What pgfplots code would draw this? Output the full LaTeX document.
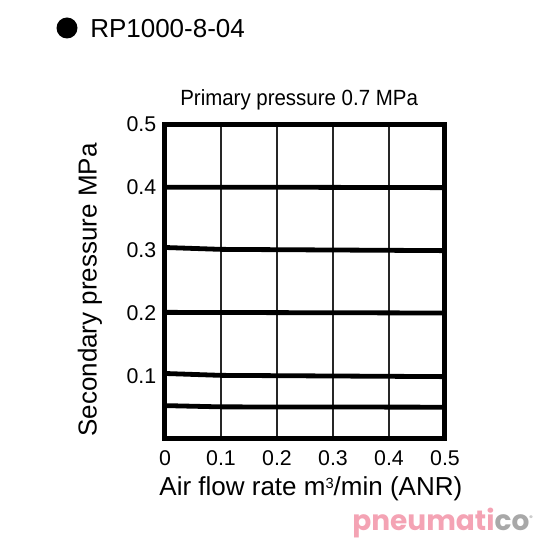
\documentclass[border=0pt]{standalone}
\usepackage{fontspec}
\setmainfont{Liberation Sans}
\newfontfamily\wmfont{Poppins}
\usepackage{pgfplots}
\pgfplotsset{compat=1.18}
\definecolor{wmpink}{HTML}{F4A3B4}
\definecolor{wmgray}{HTML}{A8A8A8}
\begin{document}
\begin{tikzpicture}
\useasboundingbox (0pt,0pt) rectangle (405pt,405pt);
\fill (50.25pt,384pt) circle (7.875pt);
\node[anchor=west,font=\fontsize{19.5}{21}\selectfont,inner sep=0] at (67.5pt,383.6pt) {RP1000-8-04};
\begin{axis}[
  at={(123.75pt,75.75pt)}, anchor=south west,
  scale only axis, width=210pt, height=236.25pt,
  xmin=0, xmax=0.5, ymin=0, ymax=0.5,
  xtick={0,0.1,0.2,0.3,0.4,0.5},
  ytick={0.1,0.2,0.3,0.4,0.5},
  xticklabels={0,0.1,0.2,0.3,0.4,0.5},
  yticklabels={0.1,0.2,0.3,0.4,0.5},
  major tick length=0pt,
  xmajorgrids,
  grid style={line width=1.2pt, black!85},
  axis line style={line width=3.75pt},
  tick label style={font=\fontsize{16}{18}\selectfont},
  xticklabel style={yshift=-5pt},
  yticklabel style={xshift=-3pt},
  /pgf/number format/assume math mode=true,
  xlabel={Air flow rate m\raisebox{0.55ex}{\fontsize{11}{12}\selectfont 3}/min (ANR)},
  ylabel={Secondary pressure MPa},
  xlabel style={font=\fontsize{19.5}{21}\selectfont, at={(axis description cs:0.521,-0.159)}, anchor=center},
  ylabel style={font=\fontsize{19.5}{21}\selectfont, at={(axis description cs:-0.268,0.473)}, anchor=center},
  title={\scalebox{0.93}[1]{Primary pressure 0.7 MPa}},
  title style={font=\fontsize{16.5}{18}\selectfont, at={(axis description cs:0.479,1.05)}, anchor=center},
  clip=false,
]
\addplot[black, line width=3.6pt] coordinates {(0,0.3995) (0.25,0.3995) (0.5,0.399)};
\addplot[black, line width=3.6pt] coordinates {(0,0.304) (0.1,0.301) (0.3,0.3) (0.5,0.299)};
\addplot[black, line width=3.6pt] coordinates {(0,0.201) (0.25,0.2005) (0.5,0.2)};
\addplot[black, line width=3.6pt] coordinates {(0,0.104) (0.1,0.101) (0.3,0.1) (0.5,0.099)};
\addplot[black, line width=3.6pt] coordinates {(0,0.053) (0.1,0.051) (0.5,0.0505)};
\end{axis}
\node[anchor=west,inner sep=0,font=\wmfont\bfseries\fontsize{21}{22}\selectfont] at (264pt,12.75pt) {\textcolor{wmpink}{pneumati}\textcolor{wmgray}{co}\textsuperscript{\textcolor{wmgray}{\tiny\textregistered}}};
\end{tikzpicture}
\end{document}
